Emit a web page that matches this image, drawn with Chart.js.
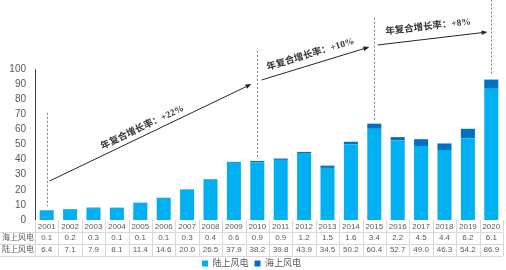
<!DOCTYPE html>
<html>
<head>
<meta charset="utf-8">
<script src="https://cdn.jsdelivr.net/npm/chart.js@4/dist/chart.umd.min.js"></script>
<style>
  html, body { margin: 0; padding: 0; background: #fff; }
  #wrap { width: 506px; height: 270px; }
</style>
</head>
<body>
<div id="wrap"><canvas id="windChart" width="506" height="270"></canvas></div>
<script>
// Data (GW)
const years = ['2001', '2002', '2003', '2004', '2005', '2006', '2007', '2008', '2009', '2010',
               '2011', '2012', '2013', '2014', '2015', '2016', '2017', '2018', '2019', '2020'];
const offshore = [0.1, 0.2, 0.3, 0.1, 0.1, 0.1, 0.3, 0.4, 0.6, 0.9,
                  0.9, 1.2, 1.5, 1.6, 3.4, 2.2, 4.5, 4.4, 6.2, 6.1];
const onshore = [6.4, 7.1, 7.9, 8.1, 11.4, 14.6, 20.0, 26.5, 37.9, 38.2,
                 39.8, 43.9, 34.5, 50.2, 60.4, 52.7, 49.0, 46.3, 54.2, 86.9];
const yMin = 0;
const yMax = 100;
const yStep = 10;
const cagrLabels = ['年复合增长率：+22%', '年复合增长率：+10%', '年复合增长率：+8%'];

const textFont = "'Liberation Sans', 'Noto Sans CJK SC', sans-serif";
const noteFont = "'Liberation Serif', 'Noto Sans CJK SC', serif";

// Marker lines (category index, top value) and arrows (from / to in index + value units)
const markers = [
    { idx: 0, top: 71 },
    { idx: 9, top: 112 },
    { idx: 14, top: 134 },
    { idx: 19, top: 146 }
];
const arrows = [
    { from: [0.12, 25.8], to: [8.75, 90.0], text: cagrLabels[0], lift: 8, shift: -5 },
    { from: [9.18, 92.7], to: [13.79, 114.6], text: cagrLabels[1], lift: 10, shift: -2 },
    { from: [14.14, 115.9], to: [18.84, 124.5], text: cagrLabels[2], lift: 12, shift: -3 }
];

// Draws dashed markers, arrows and the growth-rate notes
const notesPlugin = {
    id: 'notes',
    afterDraw(chart) {
        const { ctx, scales: { x, y } } = chart;
        ctx.save();

        ctx.strokeStyle = '#7f7f7f';
        ctx.lineWidth = 1;
        ctx.setLineDash([2, 2]);
        markers.forEach(m => {
            const px = Math.round(x.getPixelForValue(m.idx)) + 0.5;
            const total = onshore[m.idx] + offshore[m.idx];
            ctx.beginPath();
            ctx.moveTo(px, y.getPixelForValue(m.top));
            ctx.lineTo(px, y.getPixelForValue(total) - 4);
            ctx.stroke();
        });
        ctx.setLineDash([]);

        arrows.forEach(a => {
            const x1 = x.getPixelForValue(a.from[0]);
            const y1 = y.getPixelForValue(a.from[1]);
            const x2 = x.getPixelForValue(a.to[0]);
            const y2 = y.getPixelForValue(a.to[1]);
            const ang = Math.atan2(y2 - y1, x2 - x1);
            const c = Math.cos(ang), s = Math.sin(ang);

            ctx.strokeStyle = '#262626';
            ctx.fillStyle = '#262626';
            ctx.lineWidth = 1;
            ctx.beginPath();
            ctx.moveTo(x1, y1);
            ctx.lineTo(x2 - 4 * c, y2 - 4 * s);
            ctx.stroke();

            // arrow head
            ctx.beginPath();
            ctx.moveTo(x2, y2);
            ctx.lineTo(x2 - 6 * c + 2.3 * s, y2 - 6 * s - 2.3 * c);
            ctx.lineTo(x2 - 6 * c - 2.3 * s, y2 - 6 * s + 2.3 * c);
            ctx.closePath();
            ctx.fill();

            // note text, parallel to the arrow and a bit above it
            const cx = (x1 + x2) / 2 + s * a.lift + c * a.shift;
            const cy = (y1 + y2) / 2 - c * a.lift + s * a.shift;
            ctx.translate(cx, cy);
            ctx.rotate(ang);
            ctx.font = 'bold 9.5px ' + noteFont;
            ctx.fillStyle = '#333333';
            ctx.textAlign = 'center';
            ctx.textBaseline = 'middle';
            ctx.fillText(a.text, 0, 0);
            ctx.setTransform(1, 0, 0, 1, 0, 0);
        });

        ctx.restore();
    }
};

// Draws the data table under the bars
const tablePlugin = {
    id: 'dataTable',
    afterDraw(chart) {
        const { ctx, chartArea, scales: { x } } = chart;
        const top = chartArea.bottom;
        const rows = [top, top + 11.5, top + 23.5, top + 36];
        const right = chartArea.right;
        const step = x.getPixelForValue(1) - x.getPixelForValue(0);

        ctx.save();
        ctx.strokeStyle = '#d9d9d9';
        ctx.lineWidth = 1;

        // horizontal rules
        [rows[1], rows[2], rows[3]].forEach(r => {
            ctx.beginPath();
            ctx.moveTo(0, Math.round(r) + 0.5);
            ctx.lineTo(right, Math.round(r) + 0.5);
            ctx.stroke();
        });
        // vertical rules
        for (let i = 0; i <= years.length; i++) {
            const px = Math.round(x.getPixelForValue(i) - step / 2) + 0.5;
            ctx.beginPath();
            ctx.moveTo(px, rows[0]);
            ctx.lineTo(px, rows[3]);
            ctx.stroke();
        }

        ctx.font = '8px ' + textFont;
        ctx.fillStyle = '#595959';
        ctx.textAlign = 'center';
        ctx.textBaseline = 'middle';
        years.forEach((yr, i) => {
            const px = x.getPixelForValue(i);
            ctx.fillText(yr, px, (rows[0] + rows[1]) / 2 + 1);
            ctx.fillText(offshore[i].toFixed(1), px, (rows[1] + rows[2]) / 2);
            ctx.fillText(onshore[i].toFixed(1), px, (rows[2] + rows[3]) / 2);
        });
        ctx.textAlign = 'left';
        ctx.fillText('海上风电', 2, (rows[1] + rows[2]) / 2);
        ctx.fillText('陆上风电', 2, (rows[2] + rows[3]) / 2);
        ctx.restore();
    }
};

const ctx = document.getElementById('windChart').getContext('2d');
new Chart(ctx, {
    type: 'bar',
    data: {
        labels: years,
        datasets: [
            {
                label: '陆上风电',
                data: onshore,
                backgroundColor: '#00b0f0',
                borderWidth: 0,
                barPercentage: 0.6,
                categoryPercentage: 1
            },
            {
                label: '海上风电',
                data: offshore,
                backgroundColor: '#0070c0',
                borderWidth: 0,
                barPercentage: 0.6,
                categoryPercentage: 1
            }
        ]
    },
    options: {
        responsive: false,
        animation: false,
        devicePixelRatio: 1,
        layout: { padding: { top: 69, right: 3, left: 0, bottom: -8 } },
        plugins: {
            legend: {
                position: 'bottom',
                labels: {
                    boxWidth: 6,
                    boxHeight: 6,
                    padding: 6,
                    color: '#595959',
                    font: { family: textFont, size: 9 }
                }
            },
            tooltip: { enabled: false }
        },
        scales: {
            x: {
                stacked: true,
                grid: { display: false },
                border: { display: false },
                ticks: { display: false },
                afterFit(scale) { scale.height = 33; }
            },
            y: {
                stacked: true,
                min: yMin,
                max: yMax,
                grid: { display: false, drawTicks: false },
                border: { display: true, color: '#404040', width: 1 },
                ticks: {
                    stepSize: yStep,
                    autoSkip: false,
                    padding: 9,
                    color: '#595959',
                    font: { family: textFont, size: 10 }
                },
                afterFit(scale) { scale.width = 35; }
            }
        }
    },
    plugins: [notesPlugin, tablePlugin]
});
</script>
</body>
</html>
